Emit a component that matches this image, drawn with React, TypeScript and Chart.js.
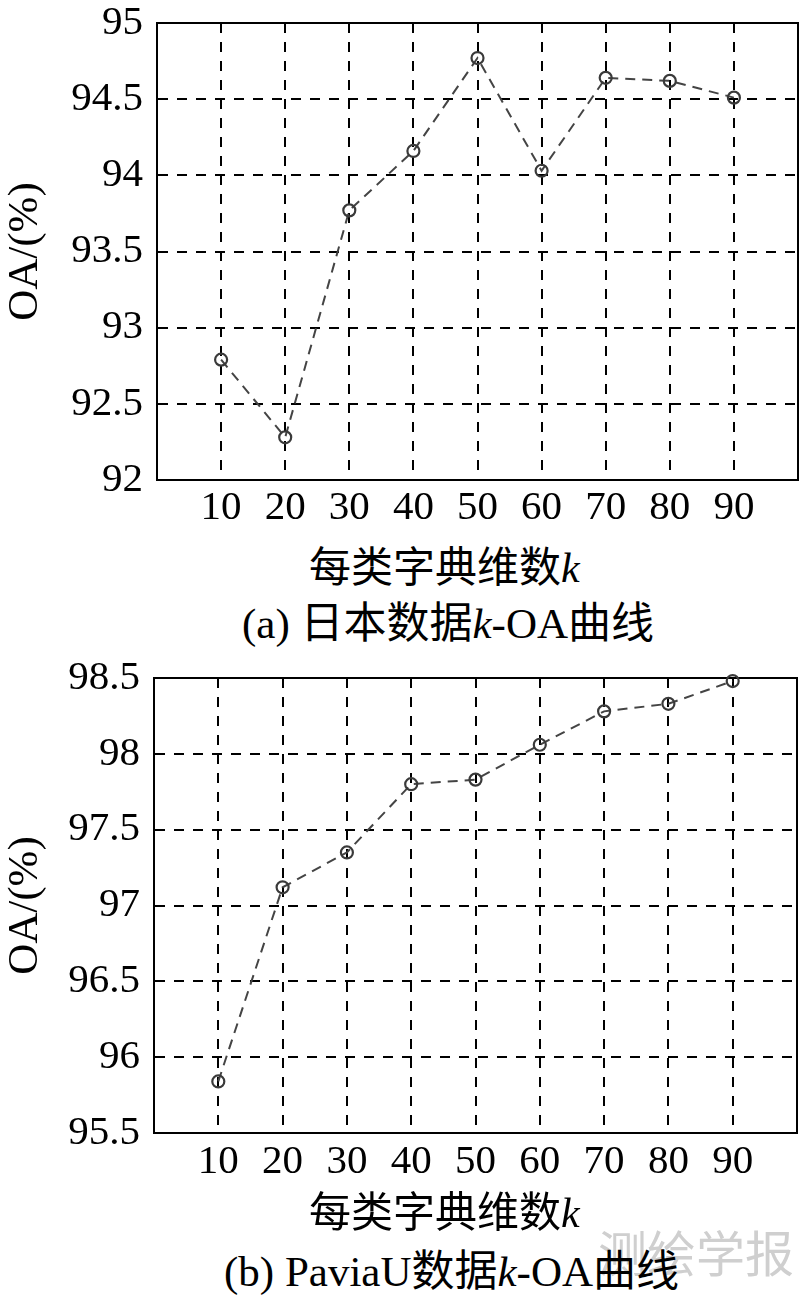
import React, { useEffect, useRef } from 'react';
import { Chart, registerables } from 'chart.js';

Chart.register(...registerables);

// ---- data ----
const kValues = [10, 20, 30, 40, 50, 60, 70, 80, 90];
const japanOA = [92.79, 92.28, 93.77, 94.16, 94.77, 94.03, 94.64, 94.62, 94.51];
const paviaOA = [95.84, 97.12, 97.35, 97.8, 97.83, 98.06, 98.28, 98.33, 98.48];
const japanYRange = [92, 95];
const paviaYRange = [95.5, 98.5];
const xRange = [0, 100];
const yStep = 0.5;
const xStep = 10;
const yTitle = 'OA/(%)';
const xTitleCJK = '每类字典维数';
const captionA = ['(a) 日本数据', '-OA曲线'];
const captionB = ['(b) PaviaU数据', '-OA曲线'];
const watermark = '测绘学报';

const SERIF = '"Liberation Serif", "Times New Roman", "Noto Sans CJK SC", serif';

const framePlugin = {
  id: 'frameBox',
  beforeDatasetsDraw(chart: any) {
    const { ctx, chartArea } = chart;
    const { left, top, right, bottom } = chartArea;
    ctx.save();
    ctx.strokeStyle = '#000';
    ctx.lineWidth = 2;
    ctx.setLineDash([]);
    ctx.strokeRect(left, top, right - left, bottom - top);
    ctx.restore();
  },
};

type Props = {
  values: number[];
  yRange: number[];
  axisWidth: number;
  padTop: number;
  padRight: number;
  height: number;
  xTickPad: number;
};

function OAChart({ values, yRange, axisWidth, padTop, padRight, height, xTickPad }: Props) {
  const ref = useRef<HTMLCanvasElement | null>(null);
  useEffect(() => {
    if (!ref.current) return;
    const hideEdge = (min: number, max: number) => (c: any) => {
      const v = c.tick ? c.tick.value : null;
      return v === min || v === max ? 'rgba(0,0,0,0)' : '#000';
    };
    const chart = new Chart(ref.current, {
      type: 'line',
      data: {
        datasets: [
          {
            data: kValues.map((k, i) => ({ x: k, y: values[i] })),
            borderColor: '#444',
            borderWidth: 2,
            borderDash: [10, 7],
            pointRadius: 6,
            pointBorderWidth: 2.2,
            pointBorderColor: '#3a3a3a',
            pointBackgroundColor: 'rgba(0,0,0,0)',
            fill: false,
            tension: 0,
            clip: false,
          } as any,
        ],
      },
      options: {
        animation: false,
        responsive: false,
        devicePixelRatio: 1,
        layout: { autoPadding: false, padding: { top: padTop, right: padRight, left: 0, bottom: 0 } },
        plugins: { legend: { display: false }, tooltip: { enabled: false }, title: { display: false } },
        scales: {
          x: {
            type: 'linear',
            min: xRange[0],
            max: xRange[1],
            ticks: {
              stepSize: xStep,
              autoSkip: false,
              maxRotation: 0,
              padding: 0,
              color: '#000',
              font: { family: SERIF, size: 41, lineHeight: 1 },
              callback: (v: any) => (v === xRange[0] || v === xRange[1] ? '' : String(v)),
            },
            grid: {
              color: hideEdge(xRange[0], xRange[1]),
              lineWidth: 2,
              drawTicks: true,
              tickLength: xTickPad,
              tickColor: 'rgba(0,0,0,0)',
            },
            border: { display: true, color: '#000', width: 2, dash: [10, 9] },
            afterFit: (s: any) => {
              s.height = 60;
            },
          },
          y: {
            type: 'linear',
            min: yRange[0],
            max: yRange[1],
            ticks: {
              stepSize: yStep,
              padding: 0,
              color: '#000',
              font: { family: SERIF, size: 41, lineHeight: 1 },
              callback: (v: any) => String(v),
            },
            grid: {
              color: hideEdge(yRange[0], yRange[1]),
              lineWidth: 2,
              drawTicks: true,
              tickLength: 14,
              tickColor: 'rgba(0,0,0,0)',
            },
            border: { display: true, color: '#000', width: 2, dash: [10, 9] },
            title: {
              display: true,
              text: yTitle,
              color: '#000',
              font: { family: SERIF, size: 43, lineHeight: 1 },
              padding: { top: 4, bottom: 0 },
            },
            afterFit: (s: any) => {
              s.width = axisWidth;
            },
          },
        },
      } as any,
      plugins: [framePlugin],
    });
    return () => chart.destroy();
  }, []);
  return <canvas ref={ref} width={800} height={height} style={{ display: 'block', width: 800, height }} />;
}

const textBase: React.CSSProperties = {
  position: 'absolute',
  fontFamily: SERIF,
  color: '#000',
  whiteSpace: 'nowrap',
};

export default function App() {
  return (
    <div style={{ position: 'absolute', left: 0, top: 0, width: 800, height: 1298, background: '#fff', overflow: 'hidden' }}>
      <div style={{ position: 'absolute', left: 0, top: 0 }}>
        <OAChart values={japanOA} yRange={japanYRange} axisWidth={157} padTop={23} padRight={2} height={540} xTickPad={8} />
      </div>
      <div style={{ position: 'absolute', left: 0, top: 655 }}>
        <OAChart values={paviaOA} yRange={paviaYRange} axisWidth={154} padTop={23} padRight={3} height={538} xTickPad={9} />
      </div>
      <div style={{ ...textBase, left: 598, top: 1226, fontSize: 49, lineHeight: '49px', color: '#cfcfcf', fontFamily: '"Noto Sans CJK SC", sans-serif' }}>
        {watermark}
      </div>
      <div style={{ ...textBase, left: 309, top: 547, fontSize: 42, lineHeight: '42px' }}>
        {xTitleCJK}<i>k</i>
      </div>
      <div style={{ ...textBase, left: 242, top: 602, fontSize: 43, lineHeight: '43px' }}>
        {captionA[0]}<i>k</i>{captionA[1]}
      </div>
      <div style={{ ...textBase, left: 309, top: 1192, fontSize: 42, lineHeight: '42px' }}>
        {xTitleCJK}<i>k</i>
      </div>
      <div style={{ ...textBase, left: 224, top: 1250, fontSize: 43, lineHeight: '43px' }}>
        {captionB[0]}<i>k</i>{captionB[1]}
      </div>
    </div>
  );
}
